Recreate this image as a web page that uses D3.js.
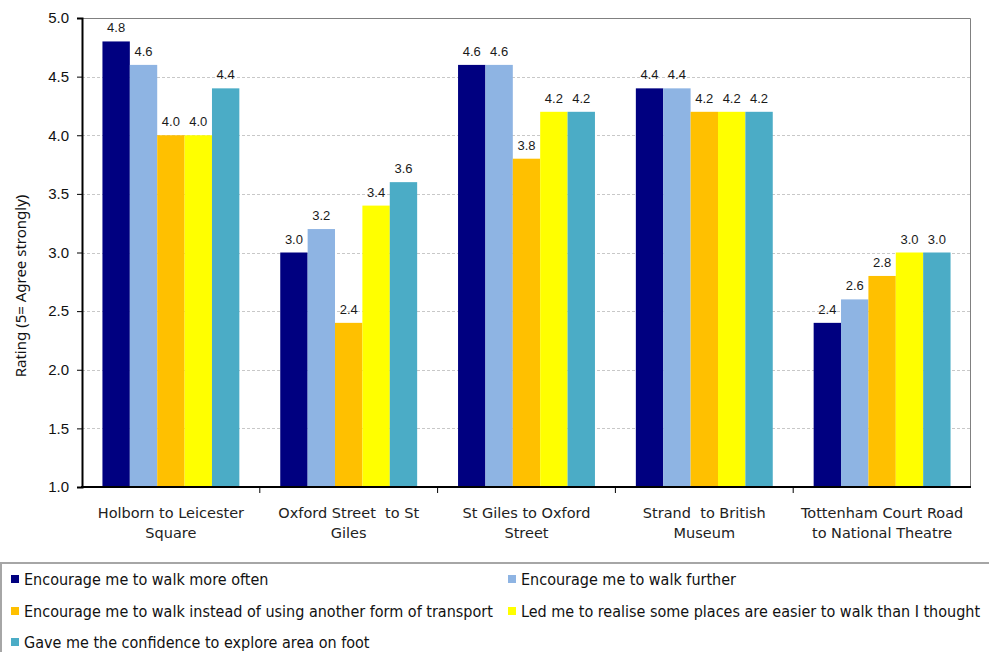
<!DOCTYPE html>
<html>
<head>
<meta charset="utf-8">
<script src="https://cdn.jsdelivr.net/npm/d3@7"></script>
<style>
  body { margin: 0; background: #fff; }
  svg { display: block; }
</style>
</head>
<body>
<div id="wrapper"></div>
<script>
// categories (each split into its two printed lines)
const routes = [
  ['Holborn to Leicester', 'Square'],
  ['Oxford Street  to St', 'Giles'],
  ['St Giles to Oxford', 'Street'],
  ['Strand  to British', 'Museum'],
  ['Tottenham Court Road', 'to National Theatre']
]
const seriesNames = [
  'Encourage me to walk more often',
  'Encourage me to walk further',
  'Encourage me to walk instead of using another form of transport',
  'Led me to realise some places are easier to walk than I thought',
  'Gave me the confidence to explore area on foot'
]
const seriesColors = ['#000080', '#8eb4e3', '#ffc000', '#ffff00', '#4bacc6']

const walkOften   = [4.8, 3.0, 4.6, 4.4, 2.4]
const walkFurther = [4.6, 3.2, 4.6, 4.4, 2.6]
const walkInstead = [4.0, 2.4, 3.8, 4.2, 2.8]
const easierWalk  = [4.0, 3.4, 4.2, 4.2, 3.0]
const confidence  = [4.4, 3.6, 4.2, 4.2, 3.0]
const seriesValues = [walkOften, walkFurther, walkInstead, easierWalk, confidence]

const yTicks = [1.0, 1.5, 2.0, 2.5, 3.0, 3.5, 4.0, 4.5, 5.0]

function drawChart() {
  const dimensions = {
    width: 989,
    height: 652,
    margin: { top: 18, right: 18, bottom: 165, left: 82 }
  }
  dimensions.boundedWidth = dimensions.width - dimensions.margin.left - dimensions.margin.right
  dimensions.boundedHeight = dimensions.height - dimensions.margin.top - dimensions.margin.bottom

  const wrapper = d3.select('#wrapper')
    .append('svg')
      .attr('width', dimensions.width)
      .attr('height', dimensions.height)

  const bounds = wrapper.append('g')
    .attr('transform', `translate(${dimensions.margin.left}, ${dimensions.margin.top})`)

  const keys = routes.map((d, i) => i)

  //scales
  const xScale = d3.scaleBand()
    .domain(keys)
    .range([0, dimensions.boundedWidth])
    .paddingInner(0)
    .paddingOuter(0)

  const groupPad = 0.115
  const innerScale = d3.scaleBand()
    .domain(d3.range(seriesNames.length))
    .range([xScale.bandwidth() * groupPad, xScale.bandwidth() * (1 - groupPad)])
    .padding(0)

  const yScale = d3.scaleLinear()
    .domain([1, 5])
    .range([dimensions.boundedHeight, 0])

  //gridlines
  bounds.append('g')
    .selectAll('line')
    .data(yTicks.filter(t => t > 1 && t < 5))
    .join('line')
      .attr('x1', 0)
      .attr('x2', dimensions.boundedWidth)
      .attr('y1', d => Math.round(yScale(d)) + 0.5)
      .attr('y2', d => Math.round(yScale(d)) + 0.5)
      .attr('stroke', '#c8c8c8')
      .attr('stroke-dasharray', '3,2')

  // plot frame (top + right)
  bounds.append('path')
    .attr('d', `M0,0.5H${dimensions.boundedWidth - 0.5}V${dimensions.boundedHeight}`)
    .attr('fill', 'none')
    .attr('stroke', '#808080')

  //bars
  const groups = bounds.selectAll('.group')
    .data(keys)
    .join('g')
      .attr('class', 'group')
      .attr('transform', d => `translate(${xScale(d)}, 0)`)

  groups.selectAll('rect')
    .data(k => seriesValues.map((vals, s) => ({ s, v: vals[k] })))
    .join('rect')
      .attr('x', d => innerScale(d.s))
      .attr('width', innerScale.bandwidth())
      .attr('y', d => yScale(d.v))
      .attr('height', d => yScale(1) - yScale(d.v))
      .attr('fill', d => seriesColors[d.s])

  groups.selectAll('text')
    .data(k => seriesValues.map((vals, s) => ({ s, v: vals[k] })))
    .join('text')
      .attr('x', d => innerScale(d.s) + innerScale.bandwidth() / 2)
      .attr('y', d => yScale(d.v) - 9)
      .attr('text-anchor', 'middle')
      .attr('font-family', 'Liberation Sans, Arial, sans-serif')
      .attr('font-size', 13)
      .attr('fill', '#1a1a1a')
      .text(d => d.v.toFixed(1))

  //axes
  const yAxis = bounds.append('g')
    .call(d3.axisLeft(yScale).tickValues(yTicks).tickFormat(d3.format('.1f')).tickSize(5).tickPadding(8))
  yAxis.select('.domain').attr('stroke', '#000').attr('stroke-width', 2)
  yAxis.selectAll('.tick line').attr('stroke', '#000')
  yAxis.selectAll('text')
    .attr('font-family', 'Liberation Sans, Arial, sans-serif')
    .attr('font-size', 15)
    .attr('fill', '#111')

  const xAxis = bounds.append('g')
    .attr('transform', `translate(0, ${dimensions.boundedHeight})`)
  xAxis.append('line')
    .attr('x1', -1)
    .attr('x2', dimensions.boundedWidth)
    .attr('stroke', '#000')
    .attr('stroke-width', 2)
  xAxis.selectAll('.sep')
    .data(keys.slice(1))
    .join('line')
      .attr('class', 'sep')
      .attr('x1', d => xScale(d))
      .attr('x2', d => xScale(d))
      .attr('y1', 0)
      .attr('y2', 6)
      .attr('stroke', '#000')

  const catLabels = xAxis.selectAll('.cat')
    .data(keys)
    .join('text')
      .attr('class', 'cat')
      .attr('text-anchor', 'middle')
      .attr('font-family', 'DejaVu Sans, Verdana, sans-serif')
      .attr('font-size', 14.5)
      .attr('fill', '#222')
      .attr('transform', d => `translate(${xScale(d) + xScale.bandwidth() / 2}, 0)`)
  catLabels.selectAll('tspan')
    .data(d => routes[d])
    .join('tspan')
      .attr('x', 0)
      .attr('y', (d, i) => 31 + i * 20)
      .attr('xml:space', 'preserve')
      .style('white-space', 'pre')
      .text(d => d)

  //y label
  wrapper.append('text')
    .attr('transform', `translate(26, 286) rotate(-90)`)
    .attr('text-anchor', 'middle')
    .attr('font-family', 'Noto Sans, Open Sans, sans-serif')
    .attr('font-size', 15)
    .attr('fill', '#111')
    .text('Rating (5= Agree strongly)')

  //legend
  const legend = wrapper.append('g')
  legend.append('rect')
    .attr('x', 1)
    .attr('y', 563)
    .attr('width', 1000)
    .attr('height', 120)
    .attr('fill', '#fff')
    .attr('stroke', '#a6a6a6')
    .attr('stroke-width', 2)

  const legendCols = [11, 508]
  const legendRows = [579, 611, 642]
  const items = legend.selectAll('.item')
    .data(seriesNames)
    .join('g')
      .attr('class', 'item')
      .attr('transform', (d, i) => `translate(${legendCols[i % 2]}, ${legendRows[Math.floor(i / 2)]})`)
  items.append('rect')
    .attr('x', 0)
    .attr('y', -4)
    .attr('width', 8)
    .attr('height', 8)
    .attr('fill', (d, i) => seriesColors[i])
  items.append('text')
    .attr('x', 13)
    .attr('dy', '0.35em')
    .attr('font-family', 'DejaVu Sans Condensed, Tahoma, sans-serif')
    .attr('font-size', 16)
    .attr('fill', '#111')
    .text(d => d)
}

drawChart()
</script>
</body>
</html>
